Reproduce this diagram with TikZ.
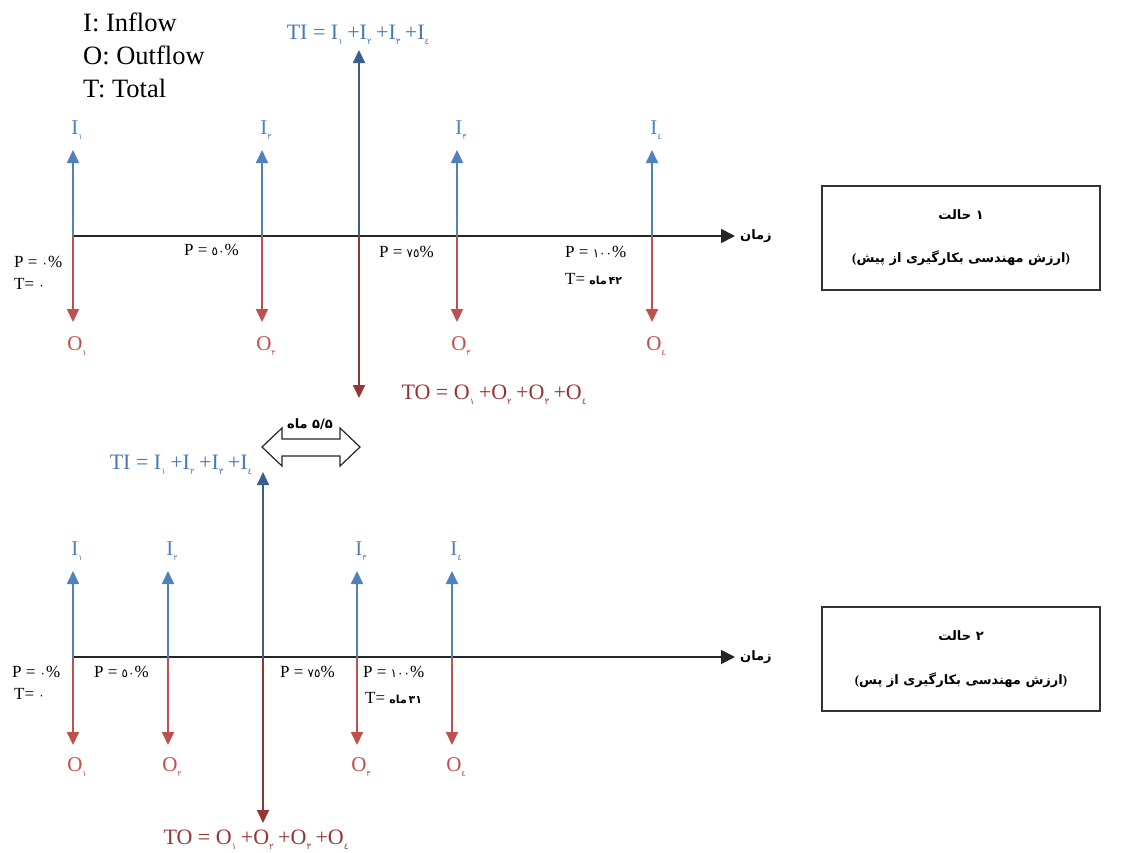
\documentclass[tikz,border=0pt]{standalone}
\usepackage{fontspec}
\setmainfont{Liberation Serif}
\newfontfamily\fa[Script=Arabic]{DejaVu Sans}
\TeXXeTstate=1
\usetikzlibrary{arrows.meta}
\definecolor{inblue}{HTML}{4F81BD}
\definecolor{outred}{HTML}{C0504D}
\definecolor{tiblue}{HTML}{3A5F8F}
\definecolor{tored}{HTML}{943634}
\definecolor{tilab}{HTML}{4A78B0}
\newcommand{\dsub}[1]{\raisebox{-0.45ex}{\fa\fontsize{8}{8}\selectfont #1}}
\newcommand{\tsub}[1]{\raisebox{-0.45ex}{\fa\fontsize{8.5}{8.5}\selectfont #1}\hspace{4.5pt}}
\newcommand{\fw}[1]{\mbox{\beginR #1\endR}}
\newcommand{\pd}[1]{{\fa\fontsize{12}{12}\selectfont #1}}
\tikzset{
  inarrow/.style={draw=inblue, line width=1.8pt, -{Triangle[width=12pt,length=13pt]}, inblue},
  outarrow/.style={draw=outred, line width=1.8pt, -{Triangle[width=12pt,length=13pt]}, outred},
  tiarrow/.style={draw=tiblue, line width=1.8pt, -{Triangle[width=12pt,length=13pt]}, tiblue},
  toarrow/.style={draw=tored, line width=1.8pt, -{Triangle[width=12pt,length=13pt]}, tored},
  axisline/.style={draw=black!85, line width=1.8pt, -{Triangle[width=14pt,length=14pt]}},
  ilab/.style={text=inblue, font=\fontsize{21}{21}\selectfont, inner sep=0pt},
  olab/.style={text=outred, font=\fontsize{21}{21}\selectfont, inner sep=0pt},
  tilabel/.style={text=tilab, font=\fontsize{22}{22}\selectfont, inner sep=0pt},
  tolabel/.style={text=tored, font=\fontsize{22}{22}\selectfont, inner sep=0pt},
  plab/.style={text=black, font=\fontsize{17}{17}\selectfont, inner sep=0pt, anchor=west},
  legend/.style={text=black, font=\fontsize{26.5}{26.5}\selectfont, inner sep=0pt, anchor=west},
  casebox/.style={draw=black!80, line width=1.3pt, minimum width=278pt, minimum height=104pt, inner sep=0pt},
  fatext/.style={font=\fa\bfseries\fontsize{13}{13}\selectfont, inner sep=0pt},
  dbl/.style={draw=black!85, line width=1.2pt, fill=white}
}
\begin{document}
\begin{tikzpicture}[x=1pt,y=-1pt]
\useasboundingbox (0,0) rectangle (1123,852);
% legend
\node[legend] (lg1) at (83,22) {I: Inflow};
\node[legend] (lg2) at (83,55) {O: Outflow};
\node[legend] (lg3) at (83,88) {T: Total};

% ================= case 1 =================
\coordinate (A1s) at (73,236);
\coordinate (A1e) at (735,236);
\draw[axisline] (A1s) -- (A1e);
\node[fatext, anchor=west] (zaman1) at (740,236) {\fw{زمان}};

\foreach \x/\n/\d in {73/1/١, 262/2/٢, 457/3/٣, 652/4/٤}{
  \coordinate (b1\n) at (\x,236);
  \coordinate (ti1\n) at (\x,150);
  \coordinate (to1\n) at (\x,322);
  \node[ilab] (I1\n) at (\x+4,130) {I\dsub{\d}};
  \node[olab] (O1\n) at (\x+4,346) {O\dsub{\d}};
  \draw[inarrow] (b1\n) -- (ti1\n);
  \draw[outarrow] (b1\n) -- (to1\n);
}
\coordinate (B1) at (359,236);
\coordinate (TIt1) at (359,50);
\coordinate (TOt1) at (359,398);
\draw[tiarrow] (B1) -- (TIt1);
\draw[toarrow] (B1) -- (TOt1);
\node[tilabel] (TI1) at (358,35) {TI = I\tsub{١}+I\tsub{٢}+I\tsub{٣}+I\tsub{٤}};
\node[tolabel] (TO1) at (494,395) {TO = O\tsub{١}+O\tsub{٢}+O\tsub{٣}+O\tsub{٤}};

\node[plab] (p11) at (14,262) {P = \pd{٠}\%};
\node[plab] (t11) at (14,284) {T= \pd{٠}};
\node[plab] (p12) at (184,250) {P = \pd{٥٠}\%};
\node[plab] (p13) at (379,252) {P = \pd{٧٥}\%};
\node[plab] (p14) at (565,252) {P = \pd{١٠٠}\%};
\node[plab] (t14) at (565,279) {T= {\fa\bfseries\fontsize{11}{11}\selectfont \fw{ماه}\,\mbox{۴۲}}};

\node[casebox] (box1) at (961,238) {};
\node[fatext] (c1a) at (961,215) {\fw{حالت}\ \mbox{۱}};
\node[fatext] (c1b) at (961,258) {\textrm{(}\fw{پیش}\ \fw{از}\ \fw{بکارگیری}\ \fw{مهندسی}\ \fw{ارزش}\textrm{)}};

% ================= case 2 =================
\coordinate (A2s) at (73,657);
\coordinate (A2e) at (735,657);
\draw[axisline] (A2s) -- (A2e);
\node[fatext, anchor=west] (zaman2) at (740,657) {\fw{زمان}};

\foreach \x/\n/\d in {73/1/١, 168/2/٢, 357/3/٣, 452/4/٤}{
  \coordinate (b2\n) at (\x,657);
  \coordinate (ti2\n) at (\x,571);
  \coordinate (to2\n) at (\x,745);
  \node[ilab] (I2\n) at (\x+4,551) {I\dsub{\d}};
  \node[olab] (O2\n) at (\x+4,767) {O\dsub{\d}};
  \draw[inarrow] (b2\n) -- (ti2\n);
  \draw[outarrow] (b2\n) -- (to2\n);
}
\coordinate (B2) at (263,657);
\coordinate (TIt2) at (263,472);
\coordinate (TOt2) at (263,823);
\draw[tiarrow] (B2) -- (TIt2);
\draw[toarrow] (B2) -- (TOt2);
\node[tilabel] (TI2) at (181,465) {TI = I\tsub{١}+I\tsub{٢}+I\tsub{٣}+I\tsub{٤}};
\node[tolabel] (TO2) at (256,840) {TO = O\tsub{١}+O\tsub{٢}+O\tsub{٣}+O\tsub{٤}};

\node[plab] (p21) at (12,672) {P = \pd{٠}\%};
\node[plab] (t21) at (14,694) {T= \pd{٠}};
\node[plab] (p22) at (94,672) {P = \pd{٥٠}\%};
\node[plab] (p23) at (280,672) {P = \pd{٧٥}\%};
\node[plab] (p24) at (363,672) {P = \pd{١٠٠}\%};
\node[plab] (t24) at (365,698) {T= {\fa\bfseries\fontsize{11}{11}\selectfont \fw{ماه}\,\mbox{۳۱}}};

\node[casebox] (box2) at (961,659) {};
\node[fatext] (c2a) at (961,636) {\fw{حالت}\ \mbox{۲}};
\node[fatext] (c2b) at (961,680) {\textrm{(}\fw{پس}\ \fw{از}\ \fw{بکارگیری}\ \fw{مهندسی}\ \fw{ارزش}\textrm{)}};

% double arrow 5.5 months
\draw[dbl] (262,447) -- (282,428) -- (282,439) -- (340,439) -- (340,428) -- (360,447)
  -- (340,466) -- (340,456) -- (282,456) -- (282,466) -- cycle;
\node[fatext] (dur) at (310,424) {\fw{ماه}\ \mbox{۵/۵}};
\end{tikzpicture}
\end{document}
